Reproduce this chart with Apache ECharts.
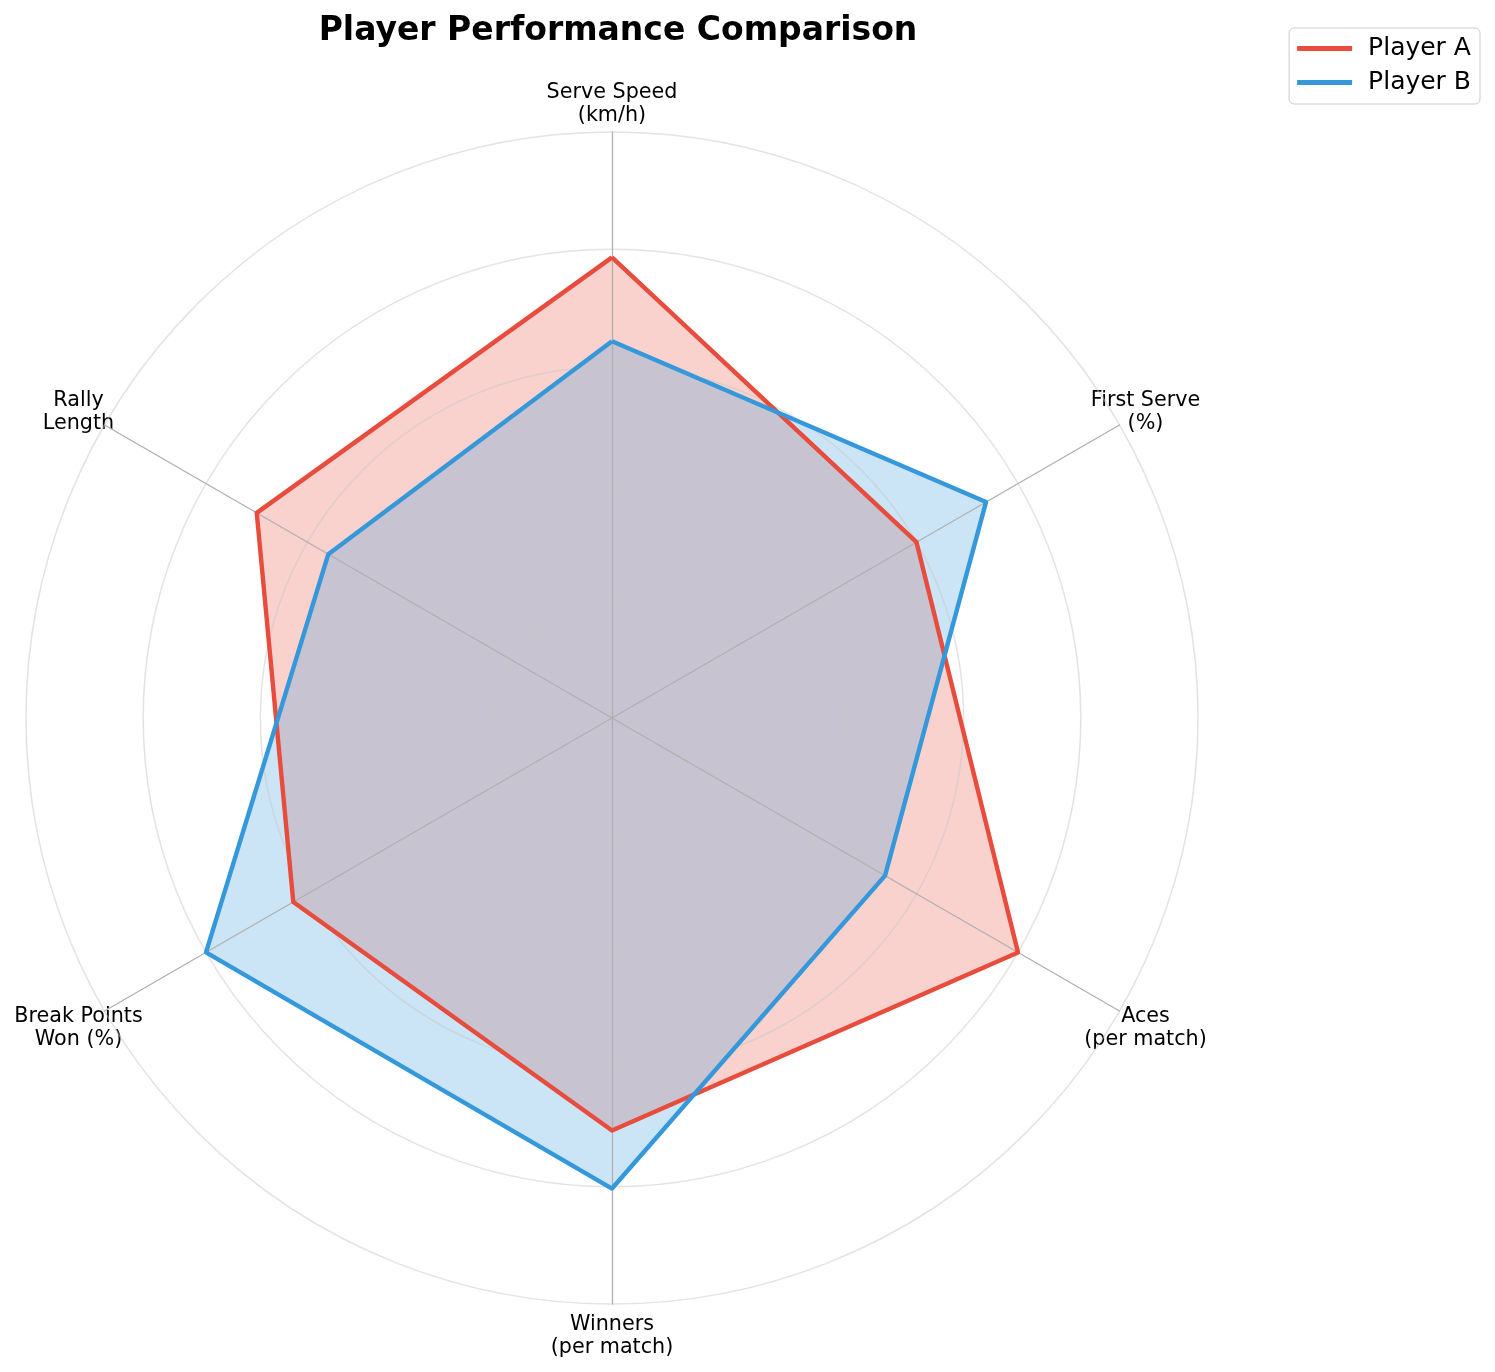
<!DOCTYPE html>
<html lang="en">
<head>
    <meta charset="UTF-8">
    <title>Player Performance Comparison</title>
    <script src="https://cdn.jsdelivr.net/npm/echarts@6.0.0/dist/echarts.min.js"></script>
    <style>
        html, body { margin: 0; padding: 0; background: #fff; }
        #chart { width: 1495px; height: 1372px; }
    </style>
</head>
<body>
    <div id="chart"></div>
    <script>
    // categories, clockwise from the top
    const categories = ['Serve Speed\n(km/h)', 'First Serve\n(%)', 'Aces\n(per match)',
        'Winners\n(per match)', 'Break Points\nWon (%)', 'Rally\nLength'];
    // normalized scores (0 - 1)
    const playerA = [0.786, 0.60, 0.80, 0.704, 0.628, 0.70];
    const playerB = [0.643, 0.737, 0.538, 0.803, 0.80, 0.559];
    const seriesNames = ['Player A', 'Player B'];
    const colors = ['#e74c3c', '#3498db'];

    const cx = 612, cy = 718, radius = 586, labelRadius = 616;
    const font = 'DejaVu Sans';

    // echarts radar goes counter-clockwise, so flip the order after the first axis
    const order = [0, 5, 4, 3, 2, 1];
    const reorder = arr => order.map(i => arr[i]);

    const labels = categories.map((name, i) => {
        const a = (90 - i * 60) * Math.PI / 180;
        return {
            type: 'text',
            x: cx + labelRadius * Math.cos(a),
            y: cy - labelRadius * Math.sin(a) + 2,
            style: {
                text: name,
                fontSize: 20.7,
                lineHeight: 23,
                fontFamily: font,
                fill: '#000',
                align: 'center',
                verticalAlign: 'middle'
            }
        };
    });

    const players = [playerA, playerB];

    const chart = echarts.init(document.getElementById('chart'));
    const option = {
        animation: false,
        backgroundColor: '#fff',
        title: {
            text: 'Player Performance Comparison',
            left: 613,
            top: 10,
            textAlign: 'center',
            textStyle: { fontFamily: font, fontSize: 33, fontWeight: 'bold', color: '#000' }
        },
        legend: {
            right: 15,
            top: 28,
            orient: 'vertical',
            icon: 'rect',
            itemWidth: 55,
            itemHeight: 5,
            itemGap: 9,
            padding: [8, 9, 9, 8],
            borderColor: '#cccccc',
            borderWidth: 1,
            borderRadius: 5,
            textStyle: { fontFamily: font, fontSize: 25, color: '#000', padding: [0, 0, 0, 11] },
            data: seriesNames.map((n, k) => ({ name: n, itemStyle: { color: colors[k] } }))
        },
        radar: {
            z: 3,
            center: [cx, cy],
            radius: radius,
            shape: 'circle',
            splitNumber: 5,
            indicator: reorder(categories).map(name => ({ name: name, min: 0, max: 1 })),
            axisName: { show: false },
            splitArea: { show: false },
            splitLine: { lineStyle: { color: 'rgba(200,200,200,0.5)', width: 1.5 } },
            axisLine: { lineStyle: { color: '#b0b0b0', width: 1.3 } },
            axisTick: { show: false },
            axisLabel: { show: false }
        },
        series: [{
            // filled areas under the grid
            type: 'radar',
            z: 2,
            symbol: 'none',
            silent: true,
            data: players.map((vals, k) => ({
                name: seriesNames[k],
                value: reorder(vals),
                lineStyle: { width: 0, opacity: 0 },
                itemStyle: { color: colors[k] },
                areaStyle: { color: colors[k], opacity: 0.25 }
            }))
        }, {
            // outlines on top
            type: 'radar',
            z: 4,
            symbol: 'none',
            data: players.map((vals, k) => ({
                name: seriesNames[k],
                value: reorder(vals),
                lineStyle: { color: colors[k], width: 4.4 },
                itemStyle: { color: colors[k] }
            }))
        }],
        graphic: labels
    };
    chart.setOption(option);
    </script>
</body>
</html>
